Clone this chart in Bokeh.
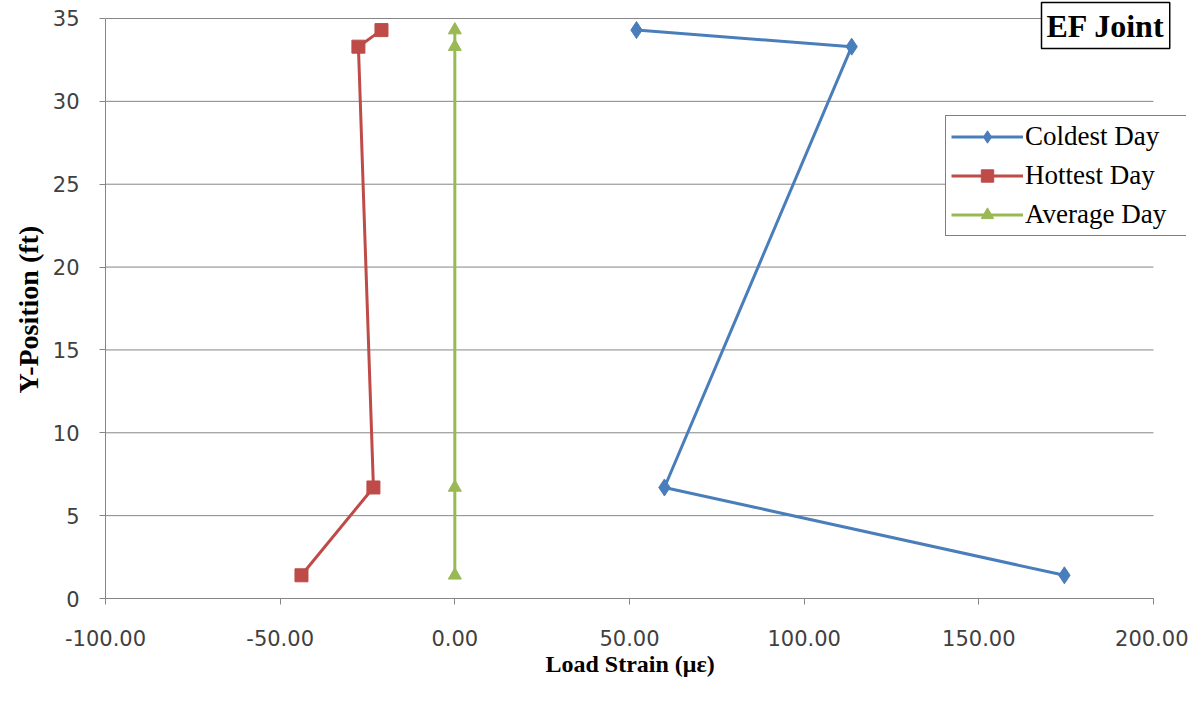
from bokeh.plotting import figure
from bokeh.models import Legend, LegendItem, Label, NumeralTickFormatter, FixedTicker, Range1d, Title
from bokeh.embed import file_html
from bokeh.resources import INLINE

# ---- data ----
y_pos = [1.4, 6.7, 33.3, 34.3]
coldest = [174.5, 60.0, 113.6, 52.0]
hottest = [-43.9, -23.3, -27.6, -21.0]
average = [0.0, 0.0, 0.0, 0.0]
x_ticks = [-100, -50, 0, 50, 100, 150, 200]
y_ticks = [0, 5, 10, 15, 20, 25, 30, 35]
x_title = "Load Strain (\u03bc\u03b5)"
y_title = "Y-Position (ft)"

series = [
    ("Coldest Day", coldest, "#4A7EBB", "diamond", 17),
    ("Hottest Day", hottest, "#BE4B48", "square", 13),
    ("Average Day", average, "#98B954", "triangle", 13),
]

# frame extends slightly past the axes so the boxed annotations are not clipped
p = figure(width=1188, height=692, output_backend="svg", toolbar_location=None,
           x_range=Range1d(-100, 209.45), y_range=Range1d(0, 36.086),
           min_border_left=105, min_border_right=2, min_border_top=0, min_border_bottom=94)
p.outline_line_color = None
p.background_fill_color = "white"

serif = "Liberation Serif"
sans = "DejaVu Sans"

p.xaxis.ticker = FixedTicker(ticks=x_ticks)
p.yaxis.ticker = FixedTicker(ticks=y_ticks)
p.xaxis.bounds = (x_ticks[0], x_ticks[-1])
p.yaxis.bounds = (y_ticks[0], y_ticks[-1])
p.xaxis.formatter = NumeralTickFormatter(format="0.00")
for ax in (p.xaxis, p.yaxis):
    ax.axis_line_color = "#868686"
    ax.major_tick_line_color = "#868686"
    ax.minor_tick_line_color = None
    ax.major_tick_in = 0
    ax.major_tick_out = 6
    ax.major_label_text_font = sans
    ax.major_label_text_font_size = "21px"
    ax.major_label_text_color = "#404040"
p.xaxis.major_label_standoff = 25
p.yaxis.major_label_standoff = 20

# axis titles as side titles, positioned so they are centred on the axis extent
p.add_layout(Title(text=x_title, align="left", offset=440, standoff=0,
                   text_font=serif, text_font_style="bold", text_font_size="24px",
                   text_color="#000000"), "below")
p.add_layout(Title(text=y_title, align="left", offset=205, standoff=12,
                   text_font=serif, text_font_style="bold", text_font_size="28px",
                   text_color="#000000"), "left")

p.xgrid.grid_line_color = None
p.ygrid.grid_line_color = None
# horizontal gridlines spanning only the axis extent
p.segment(x0=[x_ticks[0]] * len(y_ticks), x1=[x_ticks[-1]] * len(y_ticks),
          y0=y_ticks, y1=y_ticks, line_color="#868686", line_width=1)

items = []
for name, xs, color, marker, size in series:
    ln = p.line(xs, y_pos, line_color=color, line_width=3)
    sc = p.scatter(xs, y_pos, marker=marker, size=size, fill_color=color, line_color=color)
    items.append(LegendItem(label=name, renderers=[ln, sc]))

legend = Legend(items=items, location=(840, 362))
legend.border_line_color = "#000000"
legend.border_line_width = 1.5
legend.background_fill_alpha = 1
legend.label_text_font = serif
legend.label_text_font_size = "27px"
legend.label_text_color = "#000000"
legend.glyph_width = 72
legend.glyph_height = 31
legend.label_height = 31
legend.label_width = 163
legend.spacing = 8
legend.padding = 5
legend.margin = 0
legend.label_standoff = 2
p.add_layout(legend, "center")

title = Label(x=936, y=550, x_units="screen", y_units="screen", text="EF Joint",
              text_font=serif, text_font_style="bold", text_font_size="32px",
              text_color="#000000", text_align="left", text_baseline="bottom",
              border_line_color="#000000", border_line_width=1.5,
              background_fill_color="white", padding=5)
p.add_layout(title)

open("out.html", "w").write(file_html(p, INLINE))
